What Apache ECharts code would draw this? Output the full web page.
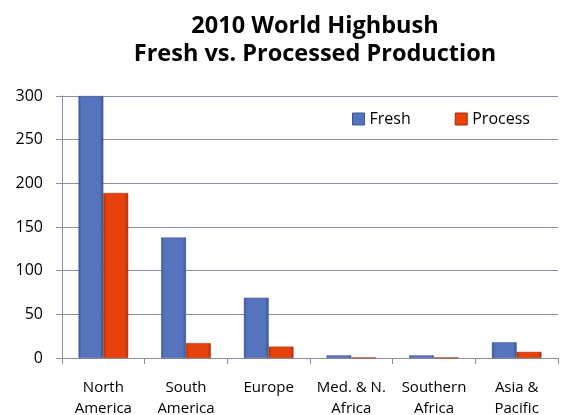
<!DOCTYPE html>
<html>
<head>
<meta charset="utf-8">
<script src="https://cdn.jsdelivr.net/npm/echarts@6/dist/echarts.min.js"></script>
<style>
  html, body { margin: 0; padding: 0; background: #fff; }
  #chart { width: 574px; height: 415px; }
</style>
</head>
<body>
<div id="chart"></div>
<script>
// Regions and production values (million lbs)
const regions = ['North\nAmerica', 'South\nAmerica', 'Europe', 'Med. & N.\nAfrica', 'Southern\nAfrica', 'Asia &\nPacific'];
const fresh = [300, 138, 69, 3, 3, 18];
const processed = [189, 17, 13, 0.6, 0.6, 7];
const yTicks = [0, 50, 100, 150, 200, 250, 300];

const font = 'Open Sans, Liberation Sans, sans-serif';
const axisGray = '#8c8c9c';

// Horizontal shading gives the bars a slightly rounded, bevelled look
function barGradient(edge, mid) {
  return new echarts.graphic.LinearGradient(0, 0, 1, 0, [
    { offset: 0, color: edge },
    { offset: 0.12, color: mid },
    { offset: 0.85, color: mid },
    { offset: 1, color: edge }
  ]);
}

const chart = echarts.init(document.getElementById('chart'), null, { renderer: 'canvas' });
chart.setOption({
  animation: false,
  title: {
    text: '2010 World Highbush\nFresh vs. Processed Production',
    left: 310,
    textAlign: 'center',
    top: 7,
    textStyle: { fontFamily: font, fontWeight: 'bold', fontSize: 23.5, lineHeight: 28, color: '#000' }
  },
  legend: {
    data: [
      { name: 'Fresh', itemStyle: { color: '#5674be', borderColor: '#3e5690', borderWidth: 1 } },
      { name: 'Process', itemStyle: { color: '#e8420c', borderColor: '#a42a05', borderWidth: 1 } }
    ],
    icon: 'rect',
    left: 347,
    top: 106,
    itemWidth: 12,
    itemHeight: 12,
    itemGap: 44,
    textStyle: { fontFamily: font, fontSize: 16, color: '#000' }
  },
  grid: { left: 62, right: 16, top: 96, bottom: 57, outerBoundsMode: 'none', containLabel: false },
  xAxis: {
    type: 'category',
    data: regions,
    axisLine: { lineStyle: { color: axisGray } },
    axisTick: { show: true, length: 6, lineStyle: { color: axisGray } },
    axisLabel: { fontFamily: font, fontSize: 15, lineHeight: 21, color: '#000', margin: 19, interval: 0 }
  },
  yAxis: {
    type: 'value',
    min: yTicks[0],
    max: yTicks[yTicks.length - 1],
    interval: 50,
    axisLine: { show: true, lineStyle: { color: axisGray } },
    axisTick: { show: true, inside: false, length: 6, lineStyle: { color: axisGray } },
    axisLabel: { fontFamily: font, fontSize: 16, color: '#000', margin: 19 },
    splitLine: { lineStyle: { color: axisGray, width: 1 } }
  },
  series: [
    {
      name: 'Fresh',
      type: 'bar',
      data: fresh,
      barGap: '0%',
      barCategoryGap: '40%',
      itemStyle: { color: barGradient('#3b5591', '#5674be'), borderColor: '#3e5690', borderWidth: 0.5 }
    },
    {
      name: 'Process',
      type: 'bar',
      data: processed,
      itemStyle: { color: barGradient('#b02e06', '#e8420c'), borderColor: '#a42a05', borderWidth: 0.5 }
    }
  ]
});
</script>
</body>
</html>
